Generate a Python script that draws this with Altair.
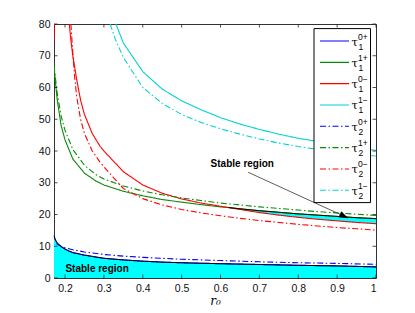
import altair as alt
import pandas as pd

# ---------------- data ----------------
# tau_1^{0+}  (blue solid, upper edge of the lower stable region)
r_t1p0 = [0.1716, 0.175, 0.18, 0.19, 0.2, 0.21, 0.22, 0.25, 0.3, 0.35, 0.4, 0.45, 0.5, 0.6, 0.7, 0.8, 0.9, 1.0]
v_t1p0 = [13.3, 12.0, 11.0, 9.9, 9.1, 8.5, 8.0, 7.2, 6.2, 5.7, 5.3, 5.0, 4.8, 4.5, 4.25, 4.0, 3.8, 3.5]
# tau_1^{1+}  (green solid)
r_t1p1 = [0.1716, 0.175, 0.18, 0.19, 0.2, 0.22, 0.25, 0.28, 0.3, 0.35, 0.4, 0.45, 0.5, 0.55, 0.6, 0.62,
          0.65, 0.7, 0.75, 0.8, 0.85, 0.9, 0.95, 1.0]
v_t1p1 = [67, 62, 56, 48, 43.5, 37.5, 33, 30.5, 29.3, 27.3, 25.9, 24.7, 23.9, 23.1, 22.4, 22.2,
          21.8, 21.2, 20.7, 20.2, 19.8, 19.4, 19.0, 18.7]
# tau_1^{0-}  (red solid)
r_t1m0 = [0.211, 0.215, 0.22, 0.23, 0.24, 0.25, 0.27, 0.29, 0.3, 0.35, 0.4, 0.45, 0.5, 0.55, 0.6, 0.62,
          0.65, 0.7, 0.75, 0.8, 0.85, 0.9, 0.95, 1.0]
v_t1m0 = [80, 75, 70, 62.5, 56, 51.5, 45.5, 41.5, 40, 33.5, 29.3, 26.7, 24.9, 23.6, 22.6, 22.2,
          21.6, 20.6, 19.8, 19.1, 18.5, 18.0, 17.5, 17.1]
# short red piece on the left edge
r_t1m0b = [0.1716, 0.1722]
v_t1m0b = [74.5, 80]
# tau_1^{1-}  (cyan solid)
r_t1m1 = [0.331, 0.35, 0.4, 0.45, 0.5, 0.55, 0.6, 0.65, 0.7, 0.75, 0.8, 0.85, 0.9, 0.95, 1.0]
v_t1m1 = [80, 74, 65, 59.5, 55.8, 53, 50.5, 48.5, 46.8, 45.3, 44, 43, 42, 41, 40.2]
# tau_2^{0+}  (blue dash-dot)
r_t2p0 = [0.178, 0.19, 0.2, 0.22, 0.25, 0.3, 0.35, 0.4, 0.45, 0.5, 0.6, 0.7, 0.8, 0.9, 1.0]
v_t2p0 = [10.8, 10.0, 9.5, 8.9, 8.2, 7.4, 6.9, 6.5, 6.2, 5.9, 5.5, 5.1, 4.8, 4.6, 4.3]
# tau_2^{1+}  (green dash-dot)
r_t2p1 = [0.1716, 0.18, 0.19, 0.2, 0.22, 0.25, 0.28, 0.3, 0.35, 0.4, 0.45, 0.5, 0.55, 0.6, 0.65, 0.7,
          0.75, 0.8, 0.85, 0.9, 0.95, 1.0]
v_t2p1 = [67, 58, 51, 46.5, 40.5, 35.5, 32.5, 31.2, 29, 27.4, 26.2, 25.2, 24.4, 23.6, 23.0, 22.4,
          21.9, 21.4, 20.9, 20.5, 20.1, 19.7]
# tau_2^{0-}  (red dash-dot)
r_t2m0 = [0.215, 0.22, 0.225, 0.23, 0.24, 0.25, 0.27, 0.29, 0.3, 0.35, 0.4, 0.45, 0.5, 0.55, 0.6, 0.65,
          0.7, 0.75, 0.8, 0.85, 0.9, 0.95, 1.0]
v_t2m0 = [80, 71, 63, 57, 50, 45.5, 40, 36.5, 35, 28.2, 25.0, 23.0, 21.6, 20.5, 19.6, 18.8,
          18.1, 17.5, 16.9, 16.4, 15.9, 15.5, 15.1]
# tau_2^{1-}  (cyan dash-dot)
r_t2m1 = [0.316, 0.33, 0.35, 0.4, 0.45, 0.5, 0.55, 0.6, 0.65, 0.7, 0.75, 0.8, 0.85, 0.9, 0.95, 1.0]
v_t2m1 = [80, 75, 69.5, 60, 55, 51.5, 49, 47, 45.3, 43.8, 42.5, 41.4, 40.5, 39.7, 39.0, 38.4]

# annotation
arrow_r = [0.671, 0.928]
arrow_v = [33.3, 18.9]
label_text = "Stable region"
label_r = [0.201, 0.656]
label_v = [1.8, 34.9]
label_align = ["left", "center"]

x_ticks = [0.2, 0.3, 0.4, 0.5, 0.6, 0.7, 0.8, 0.9, 1.0]
y_ticks = [0, 10, 20, 30, 40, 50, 60, 70, 80]

legend_names = ["t1p0", "t1p1", "t1m0", "t1m1", "t2p0", "t2p1", "t2m0", "t2m1"]
legend_sup = ["0+", "1+", "0\u2212", "1\u2212", "0+", "1+", "0\u2212", "1\u2212"]
legend_sub = ["1", "1", "1", "1", "2", "2", "2", "2"]

colors = {"t1p0": "#0000ff", "t1p1": "#0a8a0a", "t1m0": "#ff0000", "t1m1": "#00d2d2",
          "t2p0": "#0000ff", "t2p1": "#0a8a0a", "t2m0": "#ff0000", "t2m1": "#00d2d2",
          "t1m0b": "#ff0000"}
styles = {k: ("dash" if k.startswith("t2") else "solid") for k in colors}

series = [("t1p0", r_t1p0, v_t1p0), ("t1p1", r_t1p1, v_t1p1), ("t1m0", r_t1m0, v_t1m0),
          ("t1m0b", r_t1m0b, v_t1m0b), ("t1m1", r_t1m1, v_t1m1), ("t2p0", r_t2p0, v_t2p0),
          ("t2p1", r_t2p1, v_t2p1), ("t2m0", r_t2m0, v_t2m0), ("t2m1", r_t2m1, v_t2m1)]
rows = []
for name, rs, vs in series:
    for i, (r, v) in enumerate(zip(rs, vs)):
        rows.append({"s": name, "r": r, "v": v, "o": i, "col": colors[name], "st": styles[name]})
lines_df = pd.DataFrame(rows)

# stable regions
low_df = pd.DataFrame({"r": r_t1p0, "lo": [0] * len(r_t1p0), "hi": v_t1p0})
g = dict(zip(r_t1p1, v_t1p1))
rd = dict(zip(r_t1m0, v_t1m0))
band_r = [r for r in r_t1m0 if r in g and g[r] >= rd[r] and r >= 0.62]
band_df = pd.DataFrame({"r": band_r, "lo": [rd[r] for r in band_r], "hi": [g[r] for r in band_r]})

W, H = 322, 254
xs = alt.Scale(domain=[0.1716, 1.0], nice=False, zero=False)
ys = alt.Scale(domain=[0, 80], nice=False, zero=False)
x_axis = alt.Axis(values=x_ticks, labelExpr="datum.value == 1 ? '1' : format(datum.value, '.1f')",
                  ticks=False, domain=False, grid=False, labelPadding=5, labelOverlap=False,
                  title="r\u2080", titleFont="DejaVu Serif", titleFontStyle="italic",
                  titleFontWeight="normal", titleFontSize=12, titlePadding=2)
y_axis = alt.Axis(values=y_ticks, ticks=False, domain=False, grid=False,
                  labelOverlap=False, labelPadding=4, title=None)


def XX(f):
    return alt.X(f, scale=xs, axis=x_axis)


def YY(f):
    return alt.Y(f, scale=ys, axis=y_axis)


low_area = alt.Chart(low_df).mark_area(color="#00ffff", opacity=1).encode(
    x=XX("r:Q"), y=YY("lo:Q"), y2="hi:Q")
band_area = alt.Chart(band_df).mark_area(color="#00ffff", opacity=1).encode(
    x=XX("r:Q"), y=YY("lo:Q"), y2="hi:Q")

dash_scale = alt.Scale(domain=["solid", "dash"], range=[[1, 0], [6, 2.5, 1.5, 2.5]])
lines = alt.Chart(lines_df).mark_line(strokeWidth=1.1, clip=True).encode(
    x=XX("r:Q"), y=YY("v:Q"), detail="s:N", order="o:Q",
    color=alt.Color("col:N", scale=None),
    strokeDash=alt.StrokeDash("st:N", scale=dash_scale, legend=None))

low_edge = alt.Chart(low_df).mark_line(color="black", strokeWidth=0.9).encode(
    x=XX("r:Q"), y=YY("hi:Q"))
band_edge = alt.Chart(band_df).mark_line(color="black", strokeWidth=0.9).encode(
    x=XX("r:Q"), y=YY("hi:Q"))

arrow_df = pd.DataFrame({"r": arrow_r, "v": arrow_v})
arrow_line = alt.Chart(arrow_df).mark_line(color="#333333", strokeWidth=0.8).encode(
    x=XX("r:Q"), y=YY("v:Q"))
head_df = pd.DataFrame({"r": [arrow_r[1]], "v": [arrow_v[1]]})
arrow_head = alt.Chart(head_df).mark_point(shape="M0,0L-2,-0.75L-2,0.75Z", filled=True, color="black",
                                           opacity=1, size=80, angle=25).encode(
    x=XX("r:Q"), y=YY("v:Q"))

lab_df = pd.DataFrame({"r": label_r, "v": label_v, "a": label_align, "t": [label_text] * 2})
labels = alt.layer(*[
    alt.Chart(lab_df[lab_df.a == a]).mark_text(font="Liberation Sans", fontWeight="bold", fontSize=10,
                                               align=a, baseline="alphabetic", color="black").encode(
        x=XX("r:Q"), y=YY("v:Q"), text="t:N")
    for a in ["left", "center"]])

# inward ticks on all four sides
xt_df = pd.DataFrame({"r": x_ticks})
yt_df = pd.DataFrame({"v": y_ticks})
tick_col = "#222222"
ticks = alt.layer(
    alt.Chart(xt_df).mark_rule(color=tick_col, strokeWidth=0.8).encode(
        x=XX("r:Q"), y=alt.value(H), y2=alt.value(H - 3.5)),
    alt.Chart(xt_df).mark_rule(color=tick_col, strokeWidth=0.8).encode(
        x=XX("r:Q"), y=alt.value(0), y2=alt.value(3.5)),
    alt.Chart(yt_df).mark_rule(color=tick_col, strokeWidth=0.8).encode(
        y=YY("v:Q"), x=alt.value(0), x2=alt.value(3.5)),
    alt.Chart(yt_df).mark_rule(color=tick_col, strokeWidth=0.8).encode(
        y=YY("v:Q"), x=alt.value(W), x2=alt.value(W - 3.5)),
)

# custom legend (super/subscript labels)
leg_df = pd.DataFrame({"i": list(range(8)), "s": legend_names, "sup": legend_sup, "sub": legend_sub,
                       "col": [colors[n] for n in legend_names], "st": [styles[n] for n in legend_names]})
leg_base = alt.Chart(leg_df).transform_calculate(py="17 + datum.i * 21.33")
leg_box = alt.Chart(pd.DataFrame({"a": [0]})).mark_rect(fill="white", stroke="black", strokeWidth=1).encode(
    x=alt.value(260), x2=alt.value(316.5), y=alt.value(4.6), y2=alt.value(178.6))
leg_lines = leg_base.mark_rule(strokeWidth=1.1).encode(
    x=alt.value(266), x2=alt.value(295), y=alt.Y("py:Q", scale=None),
    color=alt.Color("col:N", scale=None),
    strokeDash=alt.StrokeDash("st:N", scale=dash_scale, legend=None))
leg_tau = leg_base.transform_calculate(ty="datum.py + 4.5").mark_text(
    text="\u03c4", font="DejaVu Serif", fontSize=11.5, align="left", baseline="alphabetic", color="black").encode(
    x=alt.value(297.5), y=alt.Y("ty:Q", scale=None))
leg_sup = leg_base.transform_calculate(ty="datum.py - 1.5").mark_text(
    font="Liberation Sans", fontSize=8.5, align="left", baseline="alphabetic", color="black").encode(
    x=alt.value(304), y=alt.Y("ty:Q", scale=None), text="sup:N")
leg_sub = leg_base.transform_calculate(ty="datum.py + 8.5").mark_text(
    font="Liberation Sans", fontSize=8.5, align="left", baseline="alphabetic", color="black").encode(
    x=alt.value(304.5), y=alt.Y("ty:Q", scale=None), text="sub:N")

chart = alt.layer(
    low_area, band_area, lines, low_edge, band_edge, arrow_line, arrow_head, labels, ticks,
    leg_box, leg_lines, leg_tau, leg_sup, leg_sub
).properties(
    width=W, height=H,
    autosize=alt.AutoSizeParams(type="none"),
    padding={"left": 46, "top": 16, "right": 30, "bottom": 35},
    background="white",
).configure_view(
    stroke="#333333", strokeWidth=1
).configure_axis(
    labelFont="Liberation Sans", labelFontSize=10.5, labelColor="#111111"
)

chart.save("out.html", embed_options={"renderer": "svg", "actions": False})
